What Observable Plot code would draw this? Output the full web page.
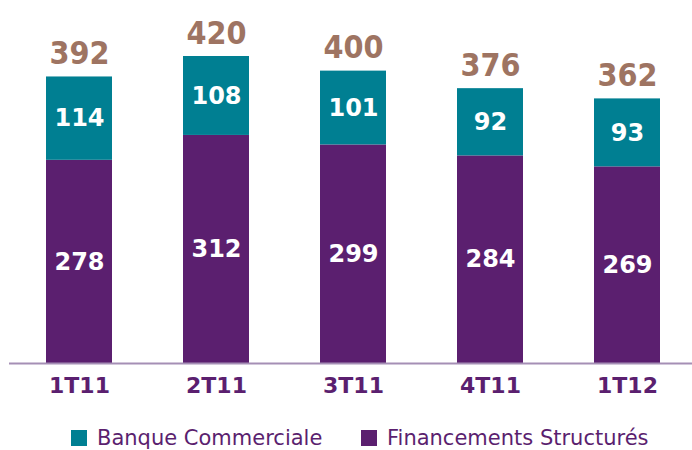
<!DOCTYPE html>
<html><head><meta charset="utf-8">
<script src="https://cdn.jsdelivr.net/npm/d3@7"></script>
<script src="https://cdn.jsdelivr.net/npm/@observablehq/plot@0.6"></script>
<style>
body{margin:0;background:#fff;font-family:"DejaVu Sans",Verdana,sans-serif;}
#wrap{position:relative;width:692px;height:450px;overflow:hidden;}
#legend{position:absolute;left:0;top:427.5px;width:692px;height:21px;font-size:21px;line-height:21px;color:#5b1f6f;}
.item{position:absolute;top:0;height:21px;display:flex;align-items:center;white-space:nowrap;}
.sw{width:16px;height:16px;display:inline-block;margin-right:10px;flex:none;}
</style></head>
<body><div id="wrap"><div id="chart"></div><div id="legend"></div></div>
<script>
const categories = ["1T11","2T11","3T11","4T11","1T12"];
const banqueCommerciale = [114,108,101,92,93];
const financementsStructures = [278,312,299,284,269];
const seriesNames = ["Banque Commerciale","Financements Structurés"];
const colors = {"Financements Structurés":"#5b1f6f","Banque Commerciale":"#007f92"};

const rows = [];
categories.forEach((c,i)=>{
  rows.push({cat:c, series:"Financements Structurés", value:financementsStructures[i], order:0});
  rows.push({cat:c, series:"Banque Commerciale", value:banqueCommerciale[i], order:1});
});
const totals = categories.map((c,i)=>({cat:c, total:financementsStructures[i]+banqueCommerciale[i]}));

const chart = Plot.plot({
  width:692, height:400,
  marginLeft:9, marginRight:0, marginTop:56, marginBottom:37,
  x:{domain:categories, range:[44,661], paddingInner:0.5209, paddingOuter:0, label:null},
  y:{domain:[0,420], axis:null},
  color:{domain:Object.keys(colors), range:Object.values(colors)},
  style:{fontFamily:"'DejaVu Sans', Verdana, sans-serif", background:"#fff", overflow:"visible"},
  marks:[
    Plot.barY(rows, Plot.stackY({x:"cat", y:"value", fill:"series", order:"order"})),
    Plot.text(rows, Plot.stackY({x:"cat", y:"value", z:"series", order:"order", text:d=>String(d.value), fill:"#fff", fontSize:24, fontWeight:"bold"})),
    Plot.text(totals, {x:"cat", y:"total", text:d=>String(d.total), dy:-23, fill:"#9e7462", fontSize:32, fontWeight:"bold", fontFamily:"'DejaVu Sans Condensed', 'DejaVu Sans', sans-serif"}),
    Plot.ruleY([0], {stroke:"#a58fb5", strokeWidth:2}),
    Plot.axisX({tickSize:0, tickPadding:14, fontSize:22, fontWeight:"bold", fill:"#5b1f6f"})
  ]
});
document.getElementById("chart").appendChild(chart);

const legend = document.getElementById("legend");
const pos = [71, 361];
seriesNames.forEach((s,i)=>{
  const it = document.createElement("div");
  it.className="item"; it.style.left = pos[i]+"px";
  const sw = document.createElement("span"); sw.className="sw"; sw.style.background=colors[s];
  const t = document.createElement("span"); t.textContent=s;
  it.appendChild(sw); it.appendChild(t); legend.appendChild(it);
});
</script></body></html>
